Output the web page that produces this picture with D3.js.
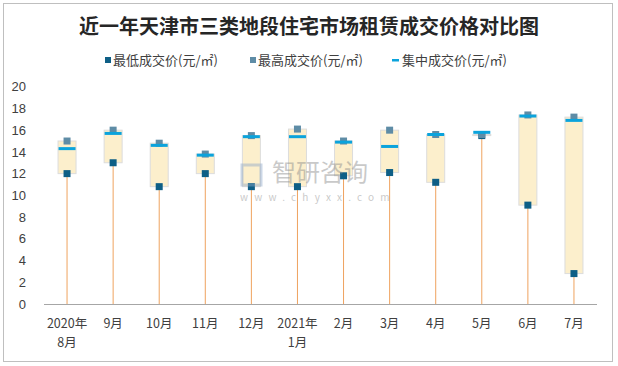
<!DOCTYPE html>
<html><head><meta charset="utf-8">
<script src="https://cdn.jsdelivr.net/npm/d3@7"></script>
<style>body{margin:0;background:#fff}svg{display:block;font-family:"Noto Sans CJK SC","Noto Sans",sans-serif}</style>
</head><body><svg id="c" width="618" height="366"></svg>
<script>
const categories = ["2020年\n8月","9月","10月","11月","12月","2021年\n1月","2月","3月","4月","5月","6月","7月"];
const lowValues  = [12, 13, 10.8, 12, 10.8, 10.8, 11.8, 12.1, 11.2, 15.5, 9.1, 2.8];
const highValues = [15, 16, 14.8, 13.8, 15.5, 16.1, 15, 16, 15.6, 15.6, 17.4, 17.2];
const midValues  = [14.3, 15.7, 14.6, 13.7, 15.4, 15.4, 14.9, 14.5, 15.6, 15.8, 17.3, 16.9];
const yTicks = [0,2,4,6,8,10,12,14,16,18,20];
const legendLabels = ["最低成交价(元/㎡)","最高成交价(元/㎡)","集中成交价(元/㎡)"];
const title = "近一年天津市三类地段住宅市场租赁成交价格对比图";

const svg = d3.select("#c");
svg.append("rect").attr("x",3.5).attr("y",3.5).attr("width",609).attr("height",358)
  .attr("fill","#fff").attr("stroke","#BFBFBF");

svg.append("text").attr("x",309).attr("y",34).attr("text-anchor","middle")
  .attr("font-size",20).attr("font-weight","bold").attr("fill","#262626").text(title);

const x = d3.scaleBand().domain(categories).range([44,597]);
const y = d3.scaleLinear().domain([0,20]).range([304,86.7]);

// y axis labels
const ya = svg.append("g").attr("transform","translate(30,0)")
  .call(d3.axisLeft(y).tickValues(yTicks).tickSize(0).tickPadding(4));
ya.select(".domain").remove();
ya.selectAll("text").attr("font-size",13).attr("fill","#404040").attr("font-family","Liberation Sans, Arial, sans-serif");

const data = categories.map((c,i)=>({c,low:lowValues[i],high:highValues[i],mid:midValues[i]}));
const cx = d => x(d.c)+x.bandwidth()/2;

// stems
svg.append("g").selectAll("line").data(data).join("line")
  .attr("x1",cx).attr("x2",cx).attr("y1",y(0)).attr("y2",d=>y(d.low))
  .attr("stroke","#EFA35F").attr("stroke-width",1);

// boxes
svg.append("g").selectAll("rect").data(data).join("rect")
  .attr("x",d=>cx(d)-9).attr("width",18)
  .attr("y",d=>y(d.high)).attr("height",d=>Math.max(1,y(d.low)-y(d.high)))
  .attr("fill","#FCEFCC").attr("stroke","#DCDCDC").attr("stroke-width",1);

// x axis
svg.append("line").attr("x1",44).attr("x2",597).attr("y1",304.5).attr("y2",304.5).attr("stroke","#A6A6A6");

// markers
svg.append("g").selectAll("rect").data(data).join("rect")
  .attr("x",d=>cx(d)-3.5).attr("y",d=>y(d.low)-3.5).attr("width",7).attr("height",7).attr("fill","#0E5F86");
svg.append("g").selectAll("rect").data(data).join("rect")
  .attr("x",d=>cx(d)-3.5).attr("y",d=>y(d.high)-3.5).attr("width",7).attr("height",7).attr("fill","#5E8CA6");
svg.append("g").selectAll("rect").data(data).join("rect")
  .attr("x",d=>cx(d)-8.5).attr("y",d=>y(d.mid)-1.5).attr("width",17).attr("height",3).attr("fill","#0BA3DC");

// watermark (on top, translucent)
const wm = svg.append("g").attr("opacity",0.45);
wm.append("rect").attr("x",242).attr("y",165).attr("width",19).attr("height",20).attr("fill","none").attr("stroke","#8FA8C8").attr("stroke-width",3);
wm.append("text").attr("x",272).attr("y",181).attr("font-size",24).attr("fill","#8A8A8A").text("智研咨询");
wm.append("text").attr("x",240).attr("y",201).attr("font-size",10).attr("letter-spacing","6.2").attr("fill","#8A8A8A").text("www.chyxx.com");

// x labels
const xl = svg.append("g").selectAll("text").data(categories).join("text")
  .attr("text-anchor","middle").attr("font-size",12.5).attr("fill","#404040")
  .attr("x",d=>x(d)+x.bandwidth()/2);
xl.each(function(d){
  const parts = d.split("\n");
  d3.select(this).selectAll("tspan").data(parts).join("tspan")
    .attr("x",x(d)+x.bandwidth()/2).attr("y",(p,i)=>328+i*19).text(p=>p);
});

// legend
const lg = svg.append("g").attr("font-size",13).attr("fill","#404040");
lg.append("rect").attr("x",105).attr("y",57).attr("width",6).attr("height",6).attr("fill","#0E5F86");
lg.append("text").attr("x",113).attr("y",65).attr("fill","#404040").text(legendLabels[0]);
lg.append("rect").attr("x",250).attr("y",57).attr("width",6).attr("height",6).attr("fill","#5E8CA6");
lg.append("text").attr("x",258).attr("y",65).attr("fill","#404040").text(legendLabels[1]);
lg.append("rect").attr("x",392).attr("y",59).attr("width",7).attr("height",2.5).attr("fill","#0BA3DC");
lg.append("text").attr("x",402).attr("y",65).attr("fill","#404040").text(legendLabels[2]);
</script></body></html>
